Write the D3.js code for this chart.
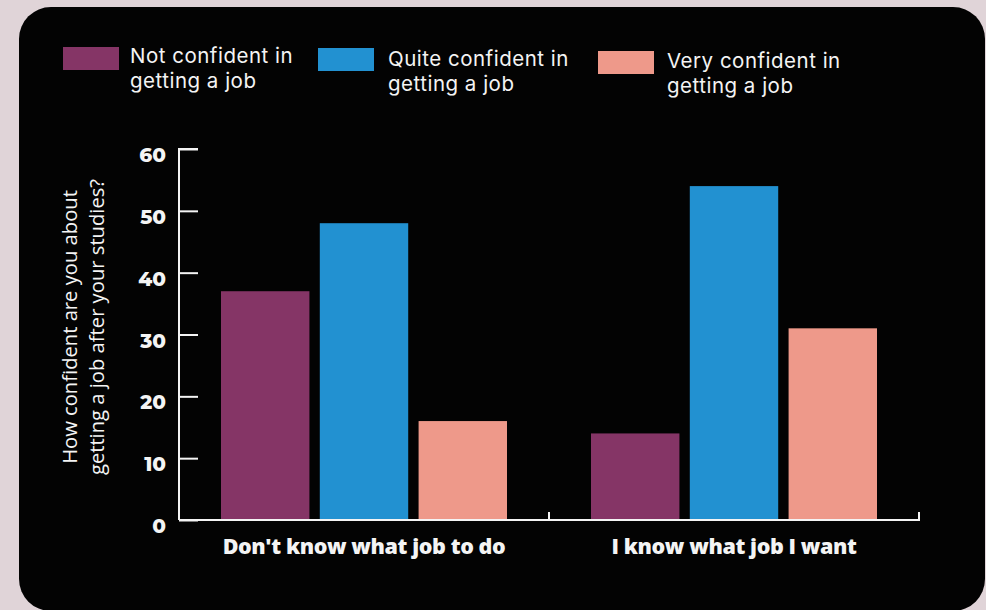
<!DOCTYPE html>
<html>
<head>
<meta charset="utf-8">
<script src="https://cdn.jsdelivr.net/npm/d3@7"></script>
<style>
  html, body { margin: 0; padding: 0; background: #e0d4d8; }
  svg { display: block; }
</style>
</head>
<body>
<svg id="chart" width="986" height="610"></svg>
<script>
// Data
const groups = ["Don't know what job to do", "I know what job I want"];
const seriesKeys = ["not", "quite", "very"];
const seriesLabels = [
  ["Not confident in", "getting a job"],
  ["Quite confident in", "getting a job"],
  ["Very confident in", "getting a job"]
];
const seriesColors = ["#853566", "#2291d1", "#ee998a"];
const notConfident = [37, 14];
const quiteConfident = [48, 54];
const veryConfident = [16, 31];
const yTicks = [0, 10, 20, 30, 40, 50, 60];
const yTitle = ["How confident are you about", "getting a job after your studies?"];

const rows = groups.map((g, i) => ({
  group: g,
  not: notConfident[i],
  quite: quiteConfident[i],
  very: veryConfident[i]
}));

const svg = d3.select("#chart");

// Card
svg.append("rect")
  .attr("x", 19).attr("y", 7)
  .attr("width", 966).attr("height", 604)
  .attr("rx", 32).attr("ry", 32)
  .attr("fill", "#030303");

const plotLeft = 179, plotRight = 919, plotTop = 149, plotBottom = 520;

const x0 = d3.scaleBand().domain(groups).range([plotLeft, plotRight]).paddingInner(0).paddingOuter(0);
const innerPad = 42;
const x1 = d3.scaleBand().domain(seriesKeys)
  .range([innerPad, x0.bandwidth() - innerPad]).paddingInner(0.105).paddingOuter(0);
const y = d3.scaleLinear().domain([0, 60]).range([plotBottom, plotTop]);
const color = d3.scaleOrdinal().domain(seriesKeys).range(seriesColors);

// Bars
svg.append("g").selectAll("g.grp").data(rows).join("g")
  .attr("class", "grp")
  .attr("transform", d => `translate(${x0(d.group)},0)`)
  .selectAll("rect").data(d => seriesKeys.map(k => ({ key: k, value: d[k] }))).join("rect")
  .attr("x", d => x1(d.key))
  .attr("width", x1.bandwidth())
  .attr("y", d => y(d.value))
  .attr("height", d => y(0) - y(d.value))
  .attr("fill", d => color(d.key));

// Y axis
const yAxis = d3.axisRight(y).tickValues(yTicks).tickSize(19).tickFormat("");
const yg = svg.append("g").attr("transform", `translate(${plotLeft},0)`).call(yAxis);
yg.select(".domain").attr("stroke", "#f4f4f4").attr("stroke-width", 2)
  .attr("d", `M19,${plotTop}H0V${plotBottom}`);
yg.selectAll(".tick line").attr("stroke", "#f4f4f4").attr("stroke-width", 2);

// Y tick labels
svg.append("g").selectAll("text").data(yTicks).join("text")
  .attr("x", 166)
  .attr("y", d => y(d) + 13)
  .attr("text-anchor", "end")
  .attr("font-family", "Montserrat, 'Open Sans', sans-serif")
  .attr("font-weight", 800)
  .attr("font-size", 20)
  .attr("fill", "#f4f4f4")
  .text(d => d);

// X axis
const xAxis = d3.axisTop(x0).tickSize(8).tickFormat("");
const xg = svg.append("g").attr("transform", `translate(0,${plotBottom})`).call(xAxis);
xg.select(".domain").attr("stroke", "#f4f4f4").attr("stroke-width", 2)
  .attr("d", `M${plotLeft},0H${plotRight}V-8`);
xg.selectAll(".tick").remove();
xg.selectAll("line.edge").data([x0(groups[1]), plotRight]).join("line")
  .attr("class", "edge")
  .attr("x1", d => d).attr("x2", d => d)
  .attr("y1", 0).attr("y2", -8)
  .attr("stroke", "#f4f4f4").attr("stroke-width", 2);

// X labels
svg.append("g").selectAll("text").data(groups).join("text")
  .attr("x", d => x0(d) + x0.bandwidth() / 2)
  .attr("y", 554)
  .attr("text-anchor", "middle")
  .attr("font-family", "'Open Sans', sans-serif")
  .attr("font-weight", 800)
  .attr("font-size", 21.5)
  .attr("letter-spacing", "-0.4px")
  .attr("fill", "#f4f4f4")
  .text(d => d);

// Y title
const yt = svg.append("text")
  .attr("transform", "translate(77,327) rotate(-90)")
  .attr("text-anchor", "middle")
  .attr("font-family", "'Open Sans', sans-serif")
  .attr("font-size", 20.2)
  .attr("fill", "#f4f4f4");
yt.selectAll("tspan").data(yTitle).join("tspan")
  .attr("x", 0).attr("dy", (d, i) => i === 0 ? 0 : 27)
  .text(d => d);

// Legend
const legendPos = [
  { sx: 63, sy: 47, tx: 130, ty: 63 },
  { sx: 318, sy: 48, tx: 388, ty: 66 },
  { sx: 598, sy: 51, tx: 667, ty: 68 }
];
const lg = svg.append("g").selectAll("g").data(seriesKeys).join("g");
lg.append("rect")
  .attr("x", (d, i) => legendPos[i].sx)
  .attr("y", (d, i) => legendPos[i].sy)
  .attr("width", 56).attr("height", 23)
  .attr("fill", d => color(d));
lg.append("text")
  .attr("x", (d, i) => legendPos[i].tx)
  .attr("y", (d, i) => legendPos[i].ty)
  .attr("font-family", "Inter, 'Open Sans', sans-serif")
  .attr("font-size", 20.5)
  .attr("letter-spacing", "0.5px")
  .attr("fill", "#f4f4f4")
  .selectAll("tspan").data((d, i) => seriesLabels[i]).join("tspan")
  .attr("x", function () { return this.parentNode.getAttribute("x"); })
  .attr("dy", (d, i) => i === 0 ? 0 : 25)
  .text(d => d);
</script>
</body>
</html>
